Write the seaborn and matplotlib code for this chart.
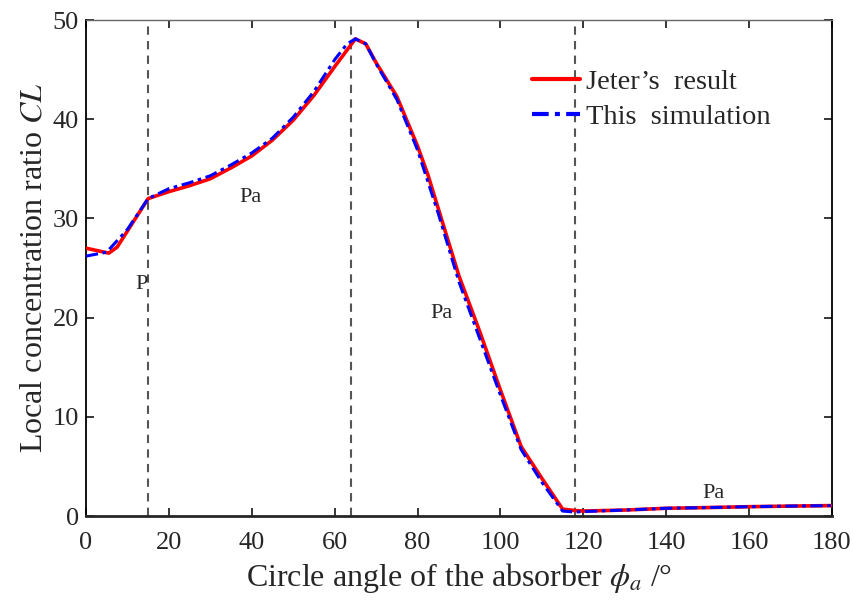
import numpy as np
import pandas as pd
import matplotlib
matplotlib.use("Agg")
import matplotlib.pyplot as plt
import seaborn as sns

# Jeter's reference curve
jeter_angle = [0, 5.5, 7.5, 15, 20, 25, 30, 35, 40, 45, 50, 55, 60, 65, 67.5, 70,
               75, 80, 82.5, 85, 90, 95, 100, 105, 110, 115, 118, 120, 130, 140,
               150, 160, 170, 180]
jeter_cl = [27.0, 26.5, 27.1, 32.0, 32.7, 33.3, 34.0, 35.1, 36.3, 37.9, 39.9, 42.4,
            45.3, 48.1, 47.6, 45.7, 42.3, 37.3, 34.4, 31.0, 24.2, 18.6, 12.7, 7.0,
            3.8, 0.7, 0.55, 0.5, 0.6, 0.78, 0.85, 0.94, 1.0, 1.05]

# Present simulation
sim_angle = [0, 5, 10, 15, 20, 25, 30, 35, 40, 45, 50, 55, 60, 63, 65, 67.5, 70,
             75, 80, 85, 90, 95, 100, 105, 110, 115, 118, 120, 130, 140, 150,
             160, 170, 180]
sim_cl = [26.2, 26.6, 28.9, 32.0, 33.0, 33.6, 34.3, 35.4, 36.6, 38.1, 40.2, 42.8,
          46.0, 47.6, 48.1, 47.6, 45.6, 42.0, 36.9, 30.5, 23.6, 17.9, 12.2, 6.7,
          3.4, 0.5, 0.4, 0.45, 0.6, 0.78, 0.85, 0.94, 1.0, 1.05]

# Region boundaries and labels
boundaries = [15, 64, 118]
region_labels = ["P", "Pa", "Pa", "Pa"]
region_x = [13.3, 39.6, 85.7, 151.5]
region_y = [23.3, 32.1, 20.4, 2.3]

series_names = ["Jeter\u2019s  result", "This  simulation"]

df = pd.concat([
    pd.DataFrame({"angle": jeter_angle, "cl": jeter_cl, "series": series_names[0]}),
    pd.DataFrame({"angle": sim_angle, "cl": sim_cl, "series": series_names[1]}),
], ignore_index=True)

sns.set_style("ticks")
plt.rcParams["font.family"] = ["Liberation Serif", "DejaVu Serif"]
plt.rcParams["mathtext.fontset"] = "stix"

fig = plt.figure(figsize=(8.54, 6.07), dpi=100)
ax = fig.add_axes([0.1007, 0.1499, 0.8735, 0.8171])

for xb in boundaries:
    ax.axvline(xb, color="#555555", lw=1.5, ls=(0, (4, 3)), zorder=1)

sns.lineplot(data=df, x="angle", y="cl", hue="series", style="series",
             palette={series_names[0]: "#ff0000", series_names[1]: "#0000ff"},
             dashes={series_names[0]: "", series_names[1]: (4, 1.5, 1.2, 1.5)},
             sort=False, estimator=None, ax=ax, zorder=3)
lines = ax.get_lines()[len(boundaries):]
lines[0].set_linewidth(2.6)
lines[1].set_linewidth(2.2)

for lab, xx, yy in zip(region_labels, region_x, region_y):
    ax.text(xx, yy, lab, ha="center", va="center", fontsize=16)

ax.set_xlim(0, 180)
ax.set_ylim(0, 50)
ax.set_xticks(np.arange(0, 181, 20))
ax.set_yticks(np.arange(0, 51, 10))
ax.tick_params(direction="in", length=6, width=1.3, labelsize=19,
               top=True, right=True)
ax.tick_params(axis="x", pad=11.5)
ax.tick_params(axis="y", pad=5)
ax.set_xlabel(r"Circle angle of the absorber $\phi_{a}$ /°", fontsize=23, labelpad=5)
ax.set_ylabel(r"Local concentration ratio $CL$", fontsize=23, labelpad=3)

for side in ["left", "right"]:
    ax.spines[side].set_linewidth(1.3)
    ax.spines[side].set_color("black")
ax.spines["bottom"].set_linewidth(2.0)
ax.spines["top"].set_linewidth(1.0)
ax.spines["top"].set_color("#666666")

handles, labels = ax.get_legend_handles_labels()
for h in handles:
    h.set_linewidth(3.0)
ax.legend(handles, labels, loc="upper left", bbox_to_anchor=(0.598, 0.902),
          frameon=False, fontsize=20.5, handlelength=1.68, handletextpad=0.2,
          labelspacing=0.32, borderpad=0, borderaxespad=0)

fig.savefig("out.png", dpi=100)
